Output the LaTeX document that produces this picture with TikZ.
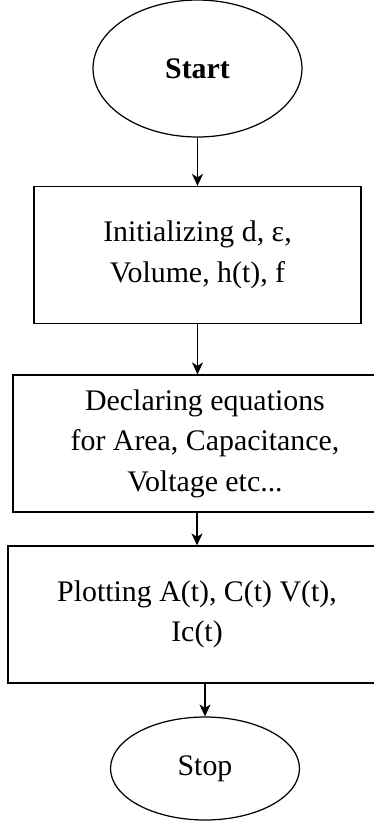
\documentclass[tikz,border=0pt]{standalone}
\usepackage{fontspec}
\setmainfont{Liberation Serif}
\usepackage{tikz}
\usetikzlibrary{positioning,arrows.meta,shapes.geometric}

\begin{document}
\begin{tikzpicture}[x=0.02cm,y=-0.02cm,
      font=\fontsize{17}{23}\selectfont,line width=0.7pt,
      term/.style={draw,ellipse,inner sep=0pt},
      proc/.style={draw,rectangle,inner sep=2pt,align=center,minimum height=2.74cm},
      arr/.style={-{Stealth[length=2.4mm,width=2.2mm,inset=0.7mm]}}]
    % page frame (reference size)
    \useasboundingbox (0,0) rectangle (374,826);
    \clip (0,0) rectangle (374,826);
    % terminals and steps
    \node[term,minimum width=4.18cm,minimum height=2.74cm,font=\fontsize{17}{23}\selectfont\bfseries] (start) at (197.5, 68.5) {Start};
    \node[proc,minimum width=6.54cm] (init) at (197.5, 255) {Initializing d, ε,\\Volume, h(t), f};
    \node[proc,minimum width=7.68cm] (decl) at (205, 443.5) {Declaring equations\\for Area, Capacitance,\\Voltage etc...};
    \node[proc,minimum width=7.56cm] (plot) at (197, 614.5) {Plotting A(t), C(t) V(t),\\Ic(t)};
    \node[term,minimum width=3.78cm,minimum height=2.06cm] (stop) at (205, 768.5) {Stop};
    % flow
    \draw[arr] (start) -- (init);
    \draw[arr] (init.south) -- (init.south |- decl.north);
    \draw[arr] (plot.north |- decl.south) -- (plot.north);
    \draw[arr] (stop.north |- plot.south) -- (stop.north);
  \end{tikzpicture}
\end{document}
